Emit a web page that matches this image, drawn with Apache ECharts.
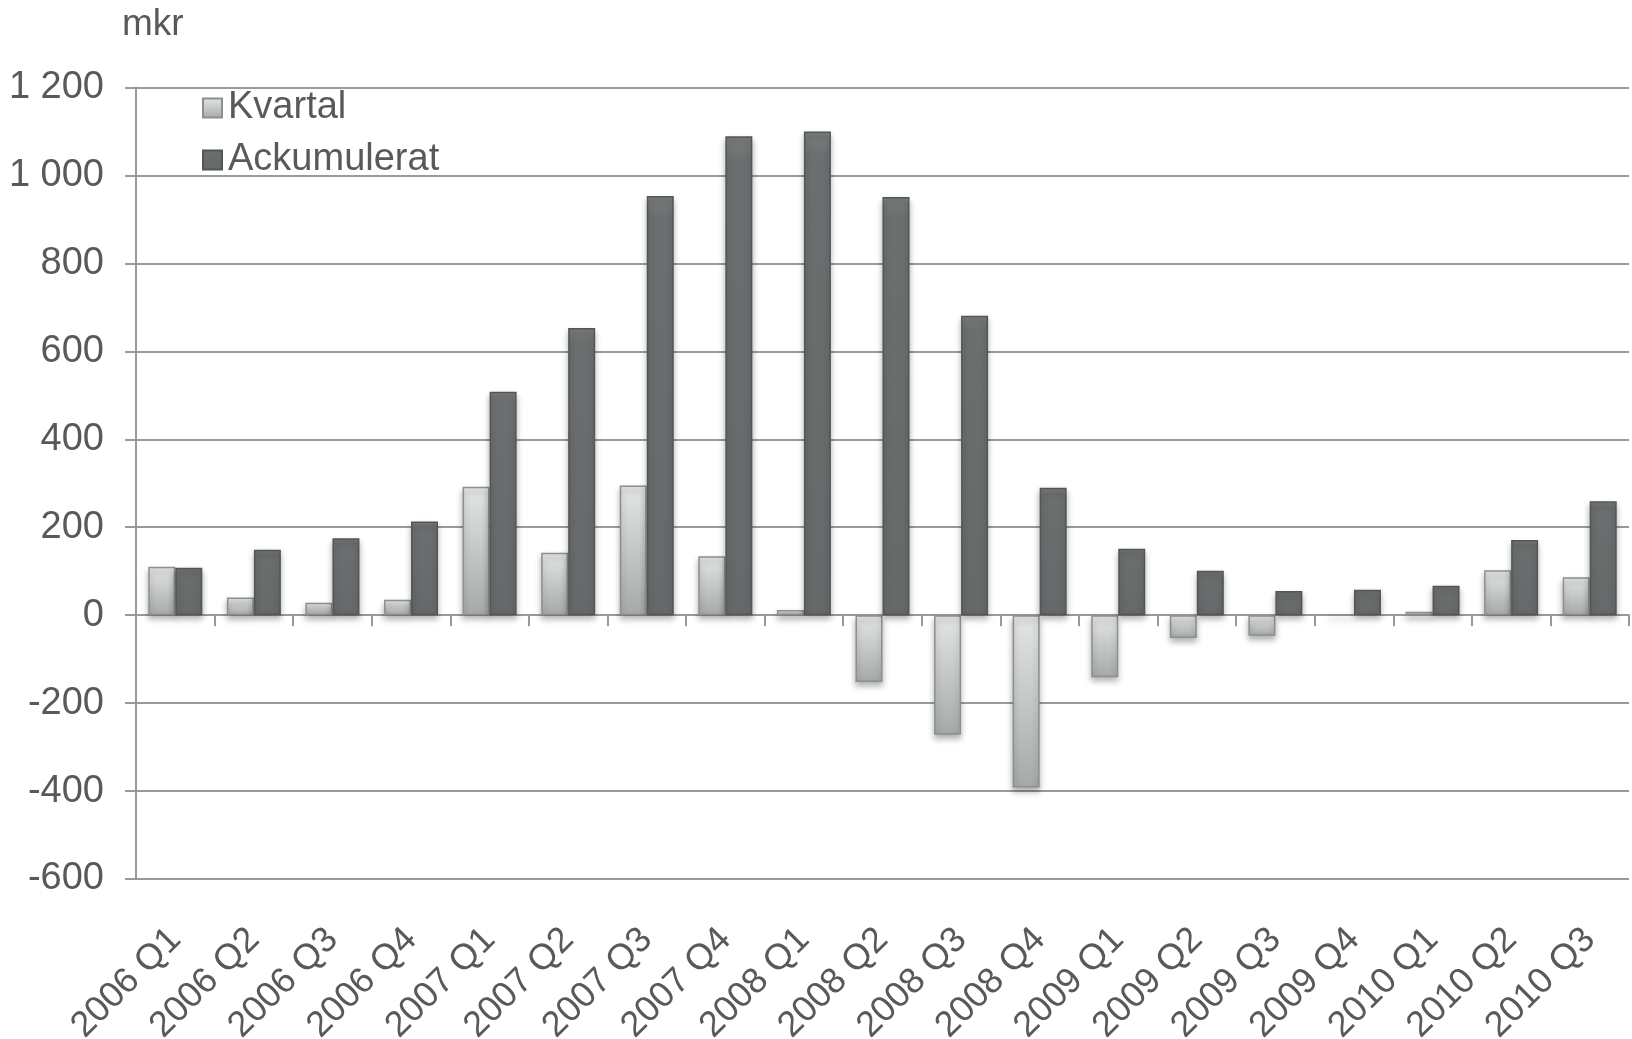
<!DOCTYPE html>
<html>
<head>
<meta charset="utf-8">
<script src="https://cdn.jsdelivr.net/npm/echarts@6/dist/echarts.min.js"></script>
<style>
    html, body { margin: 0; padding: 0; background: #fff; }
    #main { width: 1632px; height: 1039px; }
</style>
</head>
<body>
<div id="main"></div>
<script>
// kategorier (kvartal)
const categories = ["2006 Q1","2006 Q2","2006 Q3","2006 Q4","2007 Q1","2007 Q2","2007 Q3","2007 Q4",
    "2008 Q1","2008 Q2","2008 Q3","2008 Q4","2009 Q1","2009 Q2","2009 Q3","2009 Q4","2010 Q1","2010 Q2","2010 Q3"];
// mkr per kvartal
const kvartal = [110, 40, 28, 35, 292, 142, 295, 134, 12, -152, -272, -392, -141, -52, -47, 2, 8, 102, 86];
// ackumulerat mkr
const ackumulerat = [108, 149, 175, 213, 508, 653, 953, 1089, 1100, 951, 681, 290, 151, 101, 55, 58, 67, 171, 259];

const textColor = "#595959";
const lineColor = "#9a9a9a";
const font = "Liberation Sans, Arial, sans-serif";

// mellanslag som tusentalsavgränsare, t.ex. "1 200"
const fmt = v => String(v).replace(/\B(?=(\d{3})+(?!\d))/g, " ");

const chart = echarts.init(document.getElementById("main"));

const option = {
    animation: false,
    backgroundColor: "#fff",
    title: {
        text: "mkr",
        left: 117,
        top: 1,
        textStyle: { color: textColor, fontSize: 37, fontWeight: "normal", fontFamily: font }
    },
    legend: {
        orient: "vertical",
        left: 197,
        top: 84,
        itemWidth: 19,
        itemHeight: 19,
        itemGap: 14,
        icon: "rect",
        textStyle: { color: textColor, fontSize: 38, fontFamily: font, padding: [0, 0, 0, 1] },
        data: ["Kvartal", "Ackumulerat"]
    },
    // fast plotyta, etiketterna får gå nära kanten
    grid: { left: 136, right: 3, top: 87.5, bottom: 160, outerBoundsMode: "none" },
    xAxis: [
        {
            // axeln vid noll med ticks nedåt
            type: "category",
            data: categories,
            axisLine: { onZero: true, lineStyle: { color: lineColor, width: 2 } },
            axisTick: { show: true, inside: false, length: 11, lineStyle: { color: lineColor, width: 2 } },
            axisLabel: { show: false },
            splitLine: { show: false }
        },
        {
            // bara etiketterna längst ner
            type: "category",
            data: categories,
            position: "bottom",
            axisLine: { show: false, onZero: false },
            axisTick: { show: false },
            axisLabel: {
                rotate: 45,
                margin: 55,
                interval: 0,
                color: textColor,
                fontSize: 36,
                fontFamily: font
            }
        }
    ],
    yAxis: {
        type: "value",
        min: -600,
        max: 1200,
        interval: 200,
        axisLine: { show: true, lineStyle: { color: lineColor, width: 2 } },
        axisTick: { show: true, length: 11, lineStyle: { color: lineColor, width: 2 } },
        axisLabel: {
            margin: 32,
            color: textColor,
            fontSize: 38,
            fontFamily: font,
            formatter: fmt
        },
        splitLine: { lineStyle: { color: lineColor, width: 2 } }
    },
    series: [
        {
            name: "Kvartal",
            type: "bar",
            xAxisIndex: 0,
            data: kvartal,
            barWidth: 27,
            barGap: "0%",
            itemStyle: {
                color: new echarts.graphic.LinearGradient(0, 0, 0, 1, [
                    { offset: 0, color: "#e4e6e6" },
                    { offset: 1, color: "#a6a9a9" }
                ]),
                borderColor: "#8c8f8f",
                borderWidth: 1.5,
                shadowColor: "rgba(0,0,0,0.3)",
                shadowBlur: 6,
                shadowOffsetY: 4
            }
        },
        {
            name: "Ackumulerat",
            type: "bar",
            xAxisIndex: 0,
            data: ackumulerat,
            barWidth: 27,
            itemStyle: {
                color: new echarts.graphic.LinearGradient(0, 0, 0, 1, [
                    { offset: 0, color: "#7b7e7e" },
                    { offset: 0.05, color: "#6c6f6f" },
                    { offset: 1, color: "#666969" }
                ]),
                borderColor: "#535656",
                borderWidth: 1.5,
                shadowColor: "rgba(0,0,0,0.3)",
                shadowBlur: 6,
                shadowOffsetY: 4
            }
        }
    ]
};

chart.setOption(option);
</script>
</body>
</html>
